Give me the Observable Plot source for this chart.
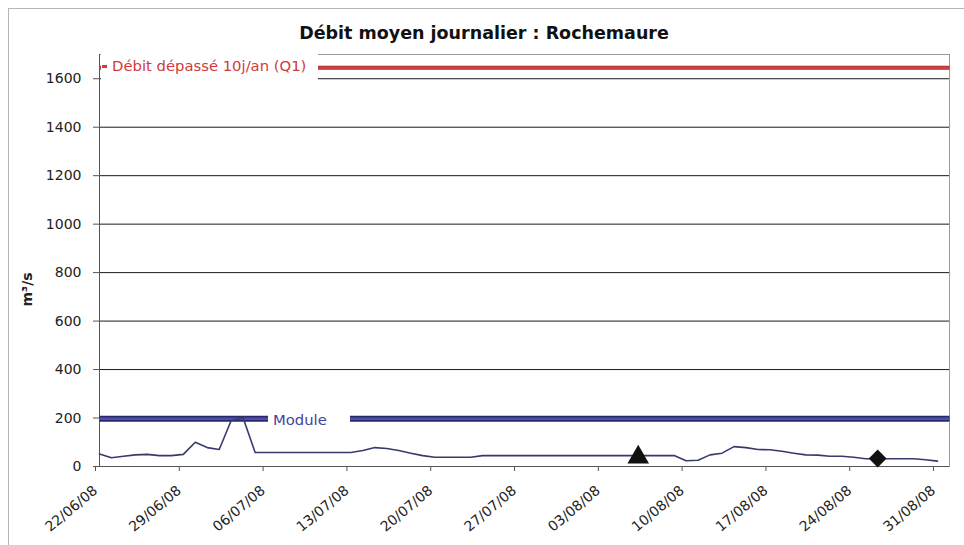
<!DOCTYPE html>
<html>
<head>
<meta charset="utf-8">
<script src="https://cdn.jsdelivr.net/npm/d3@7"></script>
<script src="https://cdn.jsdelivr.net/npm/@observablehq/plot@0.6"></script>
<style>
  html, body { margin: 0; padding: 0; background: #ffffff; }
  #wrap { position: relative; width: 964px; height: 545px; overflow: hidden; font-family: "DejaVu Sans", sans-serif; }
  #border { position: absolute; left: 8px; top: 8px; width: 2000px; height: 2000px; border-left: 1px solid #b5b5b5; border-top: 1px solid #b5b5b5; }
  #title { position: absolute; left: 0; top: 24px; width: 968px; text-align: center; font-weight: bold; font-size: 17.5px; line-height: 18px; color: #111; }
  .leg { position: absolute; background: #ffffff; white-space: nowrap; font-size: 14.8px; line-height: 16px; }
  #legQ1 { left: 101px; top: 53px; width: 217px; height: 27px; color: #d23a3a; }
  #legQ1 .key { position: absolute; left: 1px; top: 12px; width: 5px; height: 3px; background: #d23a3a; }
  #legQ1 .txt { position: absolute; left: 11px; top: 5px; }
  #legMod { left: 268px; top: 410px; width: 82px; height: 18px; color: #43439a; }
  #legMod .txt { position: absolute; left: 5px; top: 2px; }
  #chart { position: absolute; left: 0; top: 0; }
</style>
</head>
<body>
<div id="wrap">
  <div id="border"></div>
  <div id="chart"></div>
  <div id="title">Débit moyen journalier : Rochemaure</div>
  <div id="legQ1" class="leg"><span class="key"></span><span class="txt">Débit dépassé 10j/an (Q1)</span></div>
  <div id="legMod" class="leg"><span class="txt">Module</span></div>
</div>
<script>
// ---- data ----
const startDate = "2008-06-22";
// daily mean discharge (m3/s), 22/06/08 .. 31/08/08
const debit = [
  52, 36, 42, 48, 50, 45, 45, 50, 100, 78,
  70, 190, 200, 58, 58, 58, 58, 58, 58, 58,
  58, 58, 66, 78, 74, 66, 55, 45, 38, 38,
  38, 38, 45, 45, 45, 45, 45, 45, 45, 45,
  45, 45, 45, 45, 45, 45, 45, 45, 45, 24,
  26, 48, 55, 82, 78, 70, 69, 63, 55, 48,
  47, 42, 42, 38, 32, 32, 32, 32, 32, 28,
  22
];
const moduleValue = 197;
const q1Value = 1645;
const xDomain = ["2008-06-22", "2008-09-01"];
const yDomain = [0, 1700];
const xTickDates = ["2008-06-22","2008-06-29","2008-07-06","2008-07-13","2008-07-20","2008-07-27","2008-08-03","2008-08-10","2008-08-17","2008-08-24","2008-08-31"];
const yTickValues = [0, 200, 400, 600, 800, 1000, 1200, 1400, 1600];
const gridValues = [200, 400, 600, 800, 1000, 1200, 1400, 1600];
const triangleMarker = [{date: "2008-08-06", value: 38}];
const diamondMarker = [{date: "2008-08-26", value: 33}];

// ---- build ----
const d0 = new Date(startDate);
const series = debit.map((v, i) => ({date: d3.utcDay.offset(d0, i), value: v}));
const parse = s => new Date(s);
const refLine = (v) => [{date: parse(xDomain[0]), value: v}, {date: parse(xDomain[1]), value: v}];

const chart = Plot.plot({
  width: 964,
  height: 545,
  marginLeft: 99,
  marginRight: 15,
  marginTop: 54,
  marginBottom: 79,
  style: {fontFamily: "DejaVu Sans", fontSize: "14px", color: "#222", background: "transparent"},
  x: {type: "utc", domain: xDomain.map(parse)},
  y: {domain: yDomain},
  marks: [
    Plot.frame({stroke: "#9a9a9a"}),
    Plot.ruleY(gridValues, {stroke: "#1a1a1a", strokeWidth: 1}),
    Plot.ruleY([0], {stroke: "#555"}),
    Plot.ruleX([parse(xDomain[0])], {stroke: "#555"}),
    Plot.line(refLine(q1Value), {x: "date", y: "value", stroke: "#a83030", strokeWidth: 4, strokeLinecap: "butt"}),
    Plot.line(refLine(q1Value), {x: "date", y: "value", stroke: "#d94040", strokeWidth: 2, strokeLinecap: "butt"}),
    Plot.line(refLine(moduleValue), {x: "date", y: "value", stroke: "#2a2a6a", strokeWidth: 6, strokeLinecap: "butt"}),
    Plot.line(refLine(moduleValue), {x: "date", y: "value", stroke: "#4d4dab", strokeWidth: 2.5, strokeLinecap: "butt"}),
    Plot.line(series, {x: "date", y: "value", stroke: "#373a6e", strokeWidth: 1.6}),
    Plot.dot(triangleMarker, {x: d => parse(d.date), y: "value", symbol: "triangle", r: 8, fill: "#111", stroke: "none"}),
    Plot.dot(diamondMarker, {x: d => parse(d.date), y: "value", symbol: "diamond2", r: 8, fill: "#111", stroke: "none"}),
    Plot.axisY({ticks: yTickValues, tickFormat: d => String(d), tickSize: 6, tickPadding: 12, fontSize: 14, label: null, stroke: "#555"}),
    Plot.axisX({ticks: xTickDates.map(parse), tickFormat: d3.utcFormat("%d/%m/%y"), tickRotate: -40, tickSize: 5, tickPadding: 17, dx: -4, fontSize: 14, label: null, stroke: "#555"}),
    Plot.text(["m³/s"], {frameAnchor: "left", dx: -72, dy: 46, rotate: -90, fontWeight: "bold", fontSize: 14, fill: "#222"})
  ]
});
document.getElementById("chart").appendChild(chart);
</script>
</body>
</html>
